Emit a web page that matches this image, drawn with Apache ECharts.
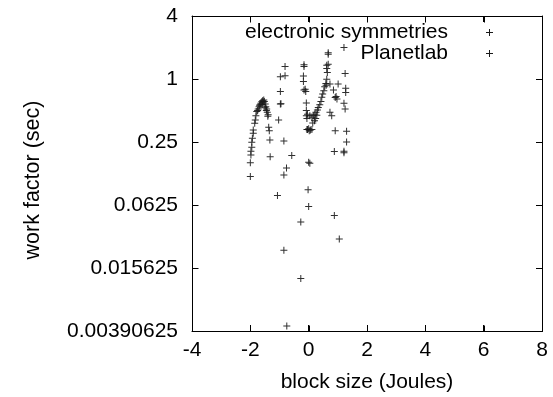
<!DOCTYPE html>
<html>
<head>
<meta charset="utf-8">
<script src="https://cdn.jsdelivr.net/npm/echarts@6/dist/echarts.min.js"></script>
<style>html,body{margin:0;padding:0;background:#fff}#c{width:553px;height:397px}</style>
</head>
<body>
<div id="c"></div>
<script>
var seriesNames = ['electronic symmetries', 'Planetlab'];
var axisTitles = ['block size (Joules)', 'work factor (sec)'];
var xTicks = [-4, -2, 0, 2, 4, 6, 8];
var yTickLabels = ['0.00390625', '0.015625', '0.0625', '0.25', '1', '4'];

var symX = [-2.0,-2.0,-1.98,-1.98,-1.95,-1.95,-1.93,-1.90,-1.90,-1.85,-1.83,-1.81,-1.78,-1.73,-1.70,-1.66,-1.64,-1.61,-1.58,-1.54,-1.52,-1.49,-1.47,-1.44,-1.42,-1.39,-1.75,-1.68,-1.60,-1.56,-1.50,-1.45,-1.40,
  -0.16,-0.16,-0.18,-0.18,-0.16,-0.12,-0.10,-0.08,-0.08,-0.06,-0.06,-0.04,0,0.02,0.06,0.11,-0.08,-0.04,0.04,0.11,0.16,0.21,0.25,0.30,0.33,0.38,0.42,0.45,0.48,0.52,0.55,0.59,0.62,0.64,0.67,0.67,0.67,0.62,0.62,0.20,0.24,0.28,0.14];
var symY = [0.117,0.158,0.188,0.204,0.223,0.249,0.272,0.303,0.326,0.377,0.406,0.446,0.49,0.517,0.543,0.568,0.585,0.606,0.620,0.629,0.611,0.576,0.543,0.517,0.48,0.456,0.50,0.56,0.57,0.60,0.53,0.50,0.44,
  1.365,1.32,1.07,0.947,0.784,0.80,0.76,0.59,0.50,0.42,0.33,0.33,0.335,0.32,0.325,0.33,0.446,0.46,0.446,0.43,0.446,0.46,0.48,0.505,0.535,0.568,0.611,0.668,0.717,0.772,0.842,0.906,0.997,1.155,1.385,1.726,1.78,1.35,1.26,0.40,0.42,0.45,0.38];

var labX = [-0.81,-0.97,-0.81,-0.97,-0.97,-0.95,-1.03,-0.85,-0.58,-0.76,-0.85,-1.07,-0.85,-0.75,-1.37,-1.35,-1.33,-1.32,
  0,0.04,-0.02,0,-0.27,-0.27,
  0.73,0.85,0.91,0.97,1.01,0.73,0.79,0.91,0.88,0.88,1.05,1.21,1.25,1.27,1.27,1.21,1.25,1.30,1.30,1.21,1.21,0.60,0.94];
var labY = [1.317,1.05,1.072,0.76,0.576,0.58,0.406,0.256,0.186,0.141,0.121,0.0771,0.0231,0.00435,0.345,0.321,0.261,0.181,
  0.16,0.157,0.0874,0.0605,0.0430,0.0124,
  0.894,0.784,0.667,0.645,0.894,0.48,0.446,0.321,0.203,0.0497,0.0296,2.0,1.13,0.818,0.744,0.585,0.517,0.316,0.25,0.204,0.197,0.87,0.68];

function pairs(xs, ys) { return xs.map(function (x, i) { return [x, ys[i]]; }); }

var plus = 'path://M3,0H4V3H7V4H4V7H3V4H0V3H3Z';
var font = 'Liberation Sans, Arial, Helvetica, sans-serif';
var ink = '#000';
var yMin = parseFloat(yTickLabels[0]), yMax = parseFloat(yTickLabels[yTickLabels.length - 1]);
var chart = echarts.init(document.getElementById('c'));
function tickStyle() { return { show: true, inside: true, length: 6, lineStyle: { color: ink, width: 1 } }; }
function axLine() { return { show: true, onZero: false, lineStyle: { color: ink, width: 1 } }; }

function legendEls() {
  var els = [];
  seriesNames.forEach(function (n, i) {
    var cy = 32 + i * 21;
    els.push({ type: 'text', x: 448, y: cy, silent: true,
      style: { text: n, fontSize: 21, fontFamily: font, fill: '#000', align: 'right', verticalAlign: 'middle' } });
    els.push({ type: 'rect', silent: true, shape: { x: 486, y: cy, width: 7, height: 1 }, style: { fill: '#1a1a1a' } });
    els.push({ type: 'rect', silent: true, shape: { x: 489, y: cy - 3, width: 1, height: 7 }, style: { fill: '#1a1a1a' } });
  });
  return els;
}

try {
  chart.setOption({
    animation: false,
    grid: { left: 192, right: 11, top: 16, bottom: 66 },
    graphic: [{
      type: 'text', x: 367, y: 382, silent: true,
      style: { text: axisTitles[0], fontSize: 21, fontFamily: font, fill: '#000', align: 'center', verticalAlign: 'middle' }
    }, {
      type: 'text', x: 33, y: 180, rotation: Math.PI / 2, silent: true,
      style: { text: axisTitles[1], fontSize: 21.5, fontFamily: font, fill: '#000', align: 'center', verticalAlign: 'middle' }
    }].concat(legendEls()),
    xAxis: [{
      type: 'value', min: xTicks[0], max: xTicks[xTicks.length - 1], interval: 2,
      axisLine: axLine(), axisTick: tickStyle(), splitLine: { show: false },
      axisLabel: { fontSize: 21, color: '#000', margin: 9, fontFamily: font }
    }, {
      type: 'value', position: 'top', min: xTicks[0], max: xTicks[xTicks.length - 1], interval: 2,
      axisLine: axLine(), axisTick: tickStyle(), splitLine: { show: false }, axisLabel: { show: false }
    }],
    yAxis: [{
      type: 'log', logBase: 2, min: yMin, max: yMax, interval: 2,
      axisLine: axLine(), axisTick: tickStyle(), splitLine: { show: false },
      axisLabel: {
        fontSize: 21, color: '#000', margin: 14, fontFamily: font,
        formatter: function (v, i) { return yTickLabels[i] !== undefined ? yTickLabels[i] : String(v); }
      }
    }, {
      type: 'log', logBase: 2, position: 'right', min: yMin, max: yMax, interval: 2,
      axisLine: axLine(), axisTick: tickStyle(), splitLine: { show: false }, axisLabel: { show: false }
    }],
    series: [{
      name: seriesNames[0], type: 'scatter', symbol: plus, symbolSize: 7,
      itemStyle: { color: '#1a1a1a', opacity: 0.9 }, data: pairs(symX, symY)
    }, {
      name: seriesNames[1], type: 'scatter', symbol: plus, symbolSize: 7,
      itemStyle: { color: '#1a1a1a', opacity: 0.9 }, data: pairs(labX, labY)
    }]
  });
} catch (e) { console.error(e); }

// Frame and mirrored inward ticks, positioned through the chart's own scales
try {
  var zr = chart.getZr();
  var G = echarts.graphic;
  var crisp = function (v) { return Math.round(v) + 0.5; };
  var bl = chart.convertToPixel({ gridIndex: 0 }, [xTicks[0], yMin]);
  var tr = chart.convertToPixel({ gridIndex: 0 }, [xTicks[xTicks.length - 1], yMax]);
  var L = crisp(bl[0]), B = crisp(bl[1]), R = crisp(tr[0]), T = crisp(tr[1]);
  var st = { stroke: '#000', lineWidth: 1, fill: null };
  zr.add(new G.Rect({ shape: { x: L, y: T, width: R - L, height: B - T }, style: { stroke: '#000', lineWidth: 1, fill: 'none' }, z: 50, silent: true }));
  xTicks.forEach(function (xv) {
    var X = crisp(chart.convertToPixel({ gridIndex: 0 }, [xv, yMin])[0]);
    zr.add(new G.Line({ shape: { x1: X, y1: B, x2: X, y2: B - 6 }, style: st, z: 50, silent: true }));
    zr.add(new G.Line({ shape: { x1: X, y1: T, x2: X, y2: T + 6 }, style: st, z: 50, silent: true }));
  });
  yTickLabels.forEach(function (lab) {
    var Y = crisp(chart.convertToPixel({ gridIndex: 0 }, [xTicks[0], parseFloat(lab)])[1]);
    zr.add(new G.Line({ shape: { x1: L, y1: Y, x2: L + 6, y2: Y }, style: st, z: 50, silent: true }));
    zr.add(new G.Line({ shape: { x1: R, y1: Y, x2: R - 6, y2: Y }, style: st, z: 50, silent: true }));
  });
} catch (e) { console.error(e); }
</script>
</body>
</html>
